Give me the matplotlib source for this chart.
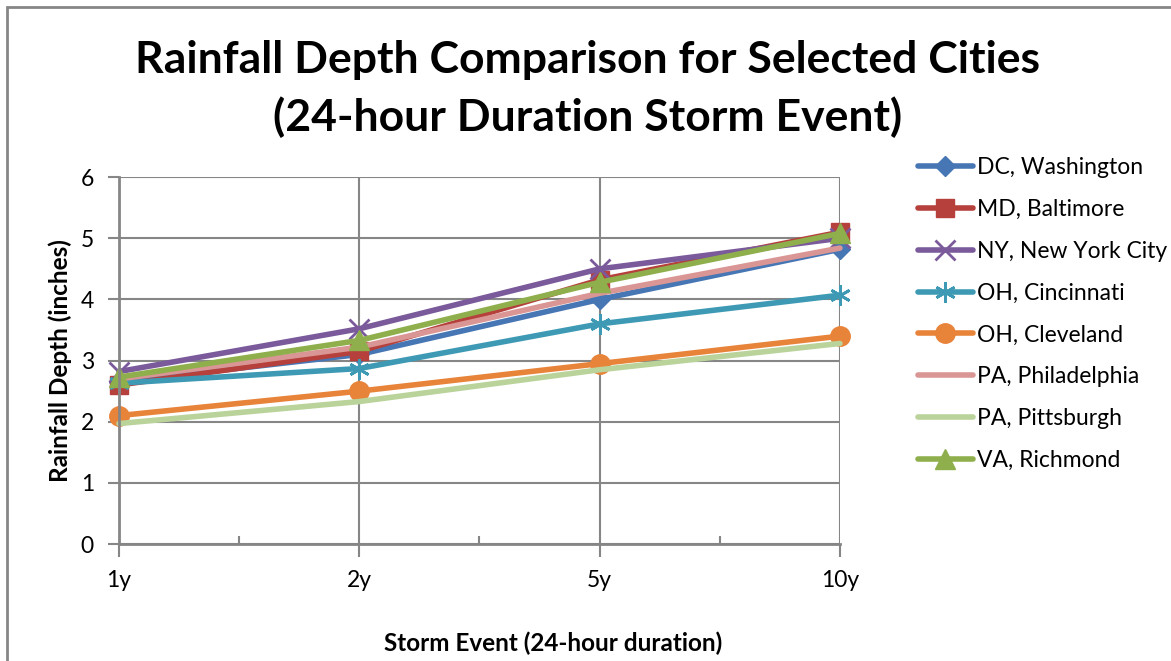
import matplotlib
matplotlib.use('Agg')
import matplotlib.pyplot as plt
from matplotlib.patches import Rectangle

plt.rcParams['font.family'] = ['Lato', 'DejaVu Sans']

# Data
events = ['1y', '2y', '5y', '10y']
cities = ['DC, Washington', 'MD, Baltimore', 'NY, New York City', 'OH, Cincinnati',
          'OH, Cleveland', 'PA, Philadelphia', 'PA, Pittsburgh', 'VA, Richmond']
dc_washington = [2.65, 3.10, 4.00, 4.82]
md_baltimore = [2.60, 3.15, 4.32, 5.10]
ny_new_york = [2.82, 3.52, 4.50, 5.00]
oh_cincinnati = [2.63, 2.87, 3.60, 4.07]
oh_cleveland = [2.10, 2.50, 2.95, 3.40]
pa_philadelphia = [2.70, 3.22, 4.10, 4.84]
pa_pittsburgh = [1.97, 2.33, 2.85, 3.28]
va_richmond = [2.73, 3.33, 4.28, 5.08]
series = [dc_washington, md_baltimore, ny_new_york, oh_cincinnati,
          oh_cleveland, pa_philadelphia, pa_pittsburgh, va_richmond]

colors = ['#4776B4', '#B5403C', '#7A5A9A', '#3E9AB4',
          '#E8833A', '#D99694', '#B9D39A', '#8EAF4C']
markers = ['D', 's', 'x', (6, 2, 0), 'o', None, None, '^']
msizes = [10, 13, 14, 15, 14, 0, 0, 14]

fig = plt.figure(figsize=(11.71, 6.61), dpi=100)
ax = fig.add_axes([0.1016, 0.177, 0.6157, 0.555])

x = list(range(len(events)))
for vals, name, c, m, ms in zip(series, cities, colors, markers, msizes):
    if m is None:
        ax.plot(x, vals, color=c, lw=4, label=name, solid_capstyle='round')
    elif m in ('x', (6, 2, 0)):
        ax.plot(x, vals, color=c, lw=4, marker=m, ms=ms, mew=2, mec=c,
                label=name, solid_capstyle='round')
    else:
        ax.plot(x, vals, color=c, lw=4, marker=m, ms=ms, mfc=c, mec=c,
                label=name, solid_capstyle='round')

ax.set_xlim(0, 3)
ax.set_ylim(0, 6)
ax.set_xticks(x)
ax.set_xticklabels(events, fontsize=16.5)
ax.set_xticks([0.5, 1.5, 2.5], minor=True)
ax.set_yticks(range(7))
ax.tick_params(axis='y', labelsize=16.5, length=8, width=1.5, color='#868686', direction='out', pad=10)
ax.tick_params(axis='x', which='major', length=9, width=1.5, color='#868686', direction='out', pad=10)
ax.tick_params(axis='x', which='minor', length=6, width=1.5, color='#868686', direction='in')
ax.grid(True, which='major', color='#868686', lw=1.5)
ax.set_axisbelow(True)
for s in ['top', 'right']:
    ax.spines[s].set_visible(False)
for s in ['left', 'bottom']:
    ax.spines[s].set_color('#868686')
    ax.spines[s].set_linewidth(2)
for line in ax.get_lines():
    line.set_clip_on(False)

ax.set_ylabel('Rainfall Depth (inches)', fontsize=17.5, fontweight='bold', labelpad=6)
fig.text(0.472, 0.027, 'Storm Event (24-hour duration)', fontsize=17.5,
         fontweight='bold', ha='center', va='center')

fig.text(0.502, 0.909, 'Rainfall Depth Comparison for Selected Cities',
         fontsize=32, fontweight='bold', ha='center', va='center')
fig.text(0.502, 0.823, '(24-hour Duration Storm Event)',
         fontsize=32, fontweight='bold', ha='center', va='center')

leg = ax.legend(loc='upper left', bbox_to_anchor=(1.095, 1.08), frameon=False,
                fontsize=16.5, handlelength=2.4, labelspacing=0.91, handletextpad=0.2,
                borderaxespad=0)

fig.patches.append(Rectangle((7 / 1171, -0.1), 1.2, 1.1 - 7 / 661,
                             transform=fig.transFigure, fill=False,
                             edgecolor='#868686', lw=2))

fig.savefig('out.png', dpi=100)
